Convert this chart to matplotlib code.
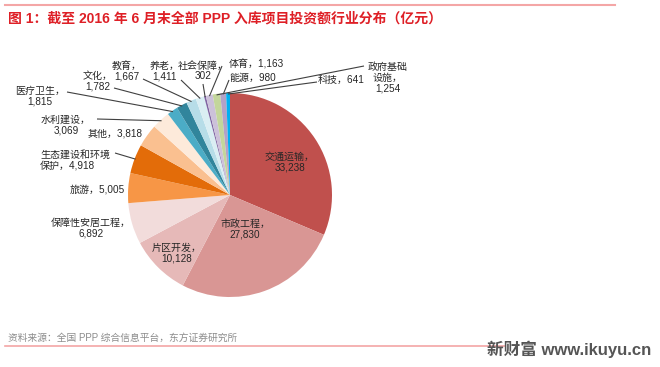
import numpy as np
import matplotlib
matplotlib.use("Agg")
import matplotlib.pyplot as plt

plt.rcParams['font.family'] = ['Liberation Sans', 'Noto Sans CJK SC', 'DejaVu Sans']

# ---------------- data ----------------
categories = ["交通运输", "市政工程", "片区开发", "保障性安居工程", "旅游",
              "生态建设和环境保护", "其他", "水利建设", "医疗卫生", "文化",
              "教育", "养老", "社会保障", "体育", "政府基础设施", "能源", "科技"]
values = [33238, 27830, 10128, 6892, 5005, 4918, 3818, 3069, 1815, 1782,
          1667, 1411, 302, 1163, 1254, 980, 641]
colors = ["#C0504D", "#D99694", "#E6B9B8", "#F2DCDB", "#F79646",
          "#E36C09", "#FAC090", "#FDEADA", "#4BACC6", "#31859C",
          "#B7DDE8", "#DAEEF3", "#8064A2", "#CCC1DA", "#C3D69B",
          "#B3A2C7", "#00B0F0"]
title = "图 1：截至 2016 年 6 月末全部 PPP 入库项目投资额行业分布（亿元）"
source = "资料来源：全国 PPP 综合信息平台，东方证券研究所"
watermark = "新财富 www.ikuyu.cn"

# label text templates (line breaks as in the original)
label_fmt = {
    "交通运输": "交通运输，\n{v}", "市政工程": "市政工程，\n{v}",
    "片区开发": "片区开发，\n{v}", "保障性安居工程": "保障性安居工程，\n{v}",
    "旅游": "旅游，{v}", "生态建设和环境保护": "生态建设和环境\n保护，{v}",
    "其他": "其他，{v}", "水利建设": "水利建设，\n{v}", "医疗卫生": "医疗卫生，\n{v}",
    "文化": "文化，\n{v}", "教育": "教育，\n{v}", "养老": "养老，\n{v}",
    "社会保障": "社会保障，\n{v}", "体育": "体育，{v}",
    "政府基础设施": "政府基础\n设施，\n{v}", "能源": "能源，{v}", "科技": "科技，{v}",
}

# ---------------- layout (pixels) ----------------
W, H, DPI = 660, 367, 100
cx, cy, R = 230, 195, 102

# label position (px), horizontal alignment, leader start (px) or None
label_pos = {
    "交通运输": (290, 162, "center", None),
    "市政工程": (245, 229, "center", None),
    "片区开发": (177, 253, "center", None),
    "保障性安居工程": (91, 228, "center", None),
    "旅游": (97, 189, "center", None),
    "生态建设和环境保护": (40, 160, "left", (115, 153)),
    "其他": (115, 133, "center", None),
    "水利建设": (66, 125, "center", (97, 119)),
    "医疗卫生": (40, 96, "center", (67, 92)),
    "文化": (98, 81, "center", (114, 88)),
    "教育": (127, 71, "center", (143, 79)),
    "养老": (165, 71, "center", (181, 80)),
    "社会保障": (203, 71, "center", (203, 84)),
    "体育": (256, 64, "center", (222, 66)),
    "政府基础设施": (388, 78, "center", (364, 66)),
    "能源": (253, 78, "center", (229, 80)),
    "科技": (341, 80, "center", (317, 82)),
}

fig = plt.figure(figsize=(W / DPI, H / DPI), dpi=DPI)
ax = fig.add_axes([(cx - R) / W, (H - cy - R) / H, 2 * R / W, 2 * R / H])

wedges, _ = ax.pie(values, colors=colors, startangle=90, counterclock=False,
                   radius=1.0, wedgeprops=dict(linewidth=0))
ax.set_xlim(-1, 1)
ax.set_ylim(-1, 1)
ax.set_aspect("auto")
ax.axis("off")


def px2d(px, py):
    return (px - cx) / R, (cy - py) / R


for cat, val, w in zip(categories, values, wedges):
    x, y, ha, lead = label_pos[cat]
    txt = label_fmt[cat].format(v=f"{val:,}")
    tx, ty = px2d(x, y)
    ax.text(tx, ty, txt, ha=ha, va="center", fontsize=7.2, color="#262626",
            linespacing=1.12, clip_on=False)
    if lead is not None:
        mid = np.deg2rad((w.theta1 + w.theta2) / 2)
        ex, ey = 0.99 * np.cos(mid), 0.99 * np.sin(mid)
        sx, sy = px2d(*lead)
        ax.plot([sx, ex], [sy, ey], color="#404040", lw=0.8, clip_on=False,
                solid_capstyle="butt")

# decorations
fig.add_artist(plt.Line2D([5 / W, 615 / W], [1 - 5 / H, 1 - 5 / H],
                          color="#F4A6A6", lw=1.5))
fig.text(8 / W, 1 - 18 / H, title, ha="left", va="center", fontsize=10,
         fontweight="bold", color="#DE1F26")
fig.add_artist(plt.Line2D([5 / W, 505 / W], [1 - 346 / H, 1 - 346 / H],
                          color="#F4A6A6", lw=1.2))
fig.text(8 / W, 1 - 338 / H, source, ha="left", va="center", fontsize=7,
         color="#8C8C8C")
fig.text(651 / W, 1 - 349 / H, watermark, ha="right", va="center", fontsize=12,
         fontweight="bold", color="#555555")

fig.savefig("out.png", dpi=DPI)
